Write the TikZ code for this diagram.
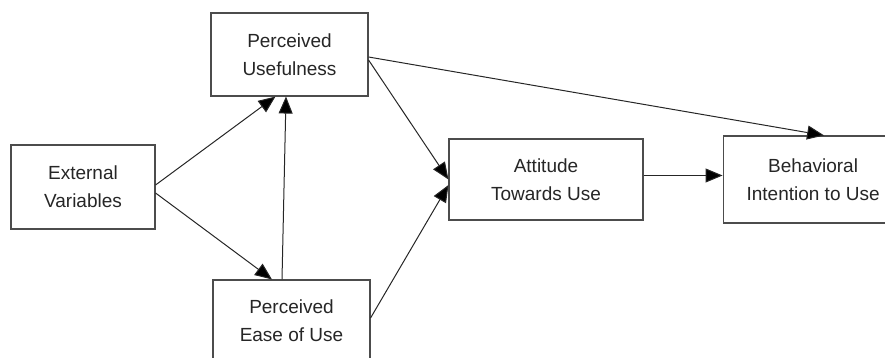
\documentclass[tikz,border=0pt]{standalone}
\usepackage{fontspec}
\setmainfont{Liberation Sans}
\usetikzlibrary{positioning}
\usetikzlibrary{arrows.meta}
\tikzset{
        tambox/.style={
          draw=black!70, line width=1.1pt, fill=white,
          align=center, text=black!85,
          inner sep=0pt,
          font=\fontsize{19}{28}\selectfont
          },
        tamarrow/.style={
          draw=black!85, line width=1pt,
          -{Triangle[length=17pt,width=14pt,fill=black]}
          },
}

\begin{document}
\begin{tikzpicture}[x=1pt, y=1pt]
      \useasboundingbox (0,0) rectangle (885,358);
      \clip (0,0) rectangle (885,358);
      % BOXES
      \node[tambox, minimum width=144pt, minimum height=84pt] (ext) at (83,171) {External\\Variables};
      \node[tambox, minimum width=157pt, minimum height=83pt] (pu) at (289.5,303.5) {Perceived\\Usefulness};
      \node[tambox, minimum width=157pt, minimum height=82pt] (peou) at (291.5,37) {Perceived\\Ease of Use};
      \node[tambox, minimum width=194pt, minimum height=81pt] (att) at (546,178.5) {Attitude\\Towards Use};
      \node[tambox, minimum width=180pt, minimum height=87pt, right=79pt of att] (bi) {Behavioral\\Intention to Use};

      % ARROWS
      % from external variables
      \draw[tamarrow] ([yshift=2pt]ext.east) -- ([xshift=-14pt]pu.south);
      \draw[tamarrow] ([yshift=-6pt]ext.east) -- ([xshift=-19.5pt]peou.north);
      % ease of use to usefulness
      \draw[tamarrow] ([xshift=-9.5pt]peou.north) -- ([xshift=-3.5pt]pu.south);
      % to attitude
      \draw[tamarrow] ([yshift=-5.5pt]pu.east) -- (att.west);
      \draw[tamarrow] ([yshift=3pt]peou.east) -- ([yshift=-5.5pt]att.west);
      % to behavioral intention
      \draw[tamarrow] ([yshift=-2.5pt]pu.east) -- ([xshift=11pt]bi.north);
      \draw[tamarrow] ([yshift=4pt]att.east) -- ([yshift=4pt]bi.west);
\end{tikzpicture}
\end{document}
